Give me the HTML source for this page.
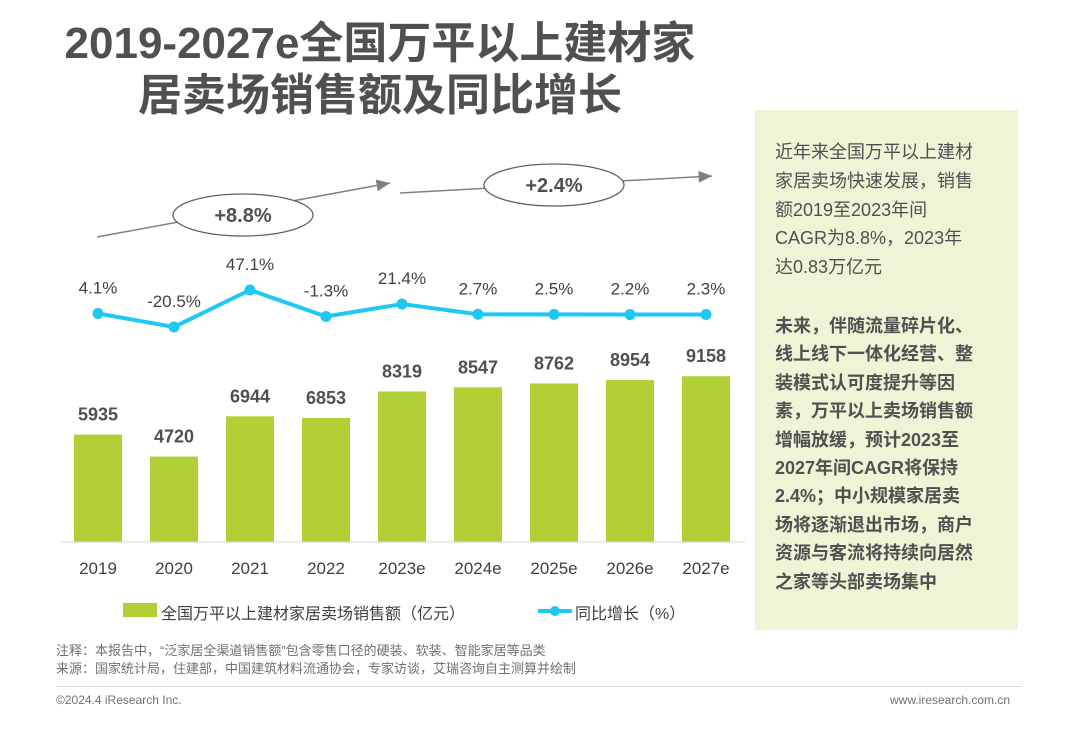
<!DOCTYPE html>
<html><head><meta charset="utf-8"><style>
body{margin:0;width:1080px;height:750px;background:#fff;position:relative;overflow:hidden;font-family:"Liberation Sans","Noto Sans CJK SC",sans-serif;color:#404040}
.t{position:absolute;white-space:nowrap}
</style></head><body>
<div class="t" style="left:0;width:760px;top:18px;text-align:center;font-size:44px;font-weight:bold;line-height:52px;color:#505050">2019-2027e全国万平以上建材家<br>居卖场销售额及同比增长</div>
<svg width="1080" height="750" style="position:absolute;left:0;top:0">
<defs><marker id="ar" markerWidth="10" markerHeight="10" refX="9" refY="5" orient="auto"><path d="M0,1 L9,5 L0,9 Z" fill="#808080"/></marker></defs>
<line x1="97" y1="237" x2="390" y2="183" stroke="#808080" stroke-width="1.5" marker-end="url(#ar)"/>
<line x1="400" y1="193" x2="712" y2="176" stroke="#808080" stroke-width="1.5" marker-end="url(#ar)"/>
<ellipse cx="243" cy="215" rx="70" ry="21" fill="#fff" stroke="#606060" stroke-width="1.3"/>
<text x="243" y="222" text-anchor="middle" font-size="20" font-weight="bold" fill="#505050">+8.8%</text>
<ellipse cx="554" cy="185" rx="70" ry="21" fill="#fff" stroke="#606060" stroke-width="1.3"/>
<text x="554" y="192" text-anchor="middle" font-size="20" font-weight="bold" fill="#505050">+2.4%</text>
<g id="bars"></g><g id="line"></g><g id="xl"></g>
<line x1="60" y1="542" x2="745" y2="542" stroke="#d9d9d9"/>
<rect x="123" y="603" width="34" height="14" fill="#b0d035"/>
<line x1="538" y1="611" x2="572" y2="611" stroke="#1ec8f0" stroke-width="4"/>
<circle cx="555" cy="611" r="5" fill="#1ec8f0"/>
</svg>
<div class="t" style="left:161px;top:600px;font-size:16px">全国万平以上建材家居卖场销售额（亿元）</div>
<div class="t" style="left:575px;top:600px;font-size:16px">同比增长（%）</div>
<div class="t" style="left:56px;top:642px;font-size:13px;line-height:18px;color:#707070">注释：本报告中，“泛家居全渠道销售额”包含零售口径的硬装、软装、智能家居等品类<br>来源：国家统计局，住建部，中国建筑材料流通协会，专家访谈，艾瑞咨询自主测算并绘制</div>
<div style="position:absolute;left:56px;top:686px;width:965px;height:1px;background:#d9d9d9"></div>
<div class="t" style="left:56px;top:693px;font-size:12px;color:#707070">©2024.4 iResearch Inc.</div>
<div class="t" style="left:890px;top:693px;font-size:12px;color:#707070">www.iresearch.com.cn</div>
<div style="position:absolute;left:755px;top:110px;width:263px;height:520px;background:#eff4d6">
<div class="t" style="left:20px;top:28px;font-size:18px;line-height:28.8px;color:#505050">近年来全国万平以上建材<br>家居卖场快速发展，销售<br>额2019至2023年间<br>CAGR为8.8%，2023年<br>达0.83万亿元</div>
<div class="t" style="left:20px;top:202px;font-size:18px;line-height:28.4px;font-weight:bold;color:#505050">未来，伴随流量碎片化、<br>线上线下一体化经营、整<br>装模式认可度提升等因<br>素，万平以上卖场销售额<br>增幅放缓，预计2023至<br>2027年间CAGR将保持<br>2.4%；中小规模家居卖<br>场将逐渐退出市场，商户<br>资源与客流将持续向居然<br>之家等头部卖场集中</div>
</div>
<script>
const years=["2019","2020","2021","2022","2023e","2024e","2025e","2026e","2027e"];
const sales=[5935,4720,6944,6853,8319,8547,8762,8954,9158];
const growth=[4.1,-20.5,47.1,-1.3,21.4,2.7,2.5,2.2,2.3];
const NS="http://www.w3.org/2000/svg";
function xs(i){return 98+i*76;}
function ys(v){return 542-v*0.01810;}
function yg(v){return 290+(47.1-v)*0.547;}
function mk(t,a,p){const e=document.createElementNS(NS,t);for(const k in a)e.setAttribute(k,a[k]);document.getElementById(p).appendChild(e);return e;}
let pts=[];
years.forEach((y,i)=>{
 const b=mk("rect",{x:xs(i)-24,y:ys(sales[i]),width:48,height:542-ys(sales[i]),fill:"#b0d035"},"bars");
 
 
 const t=mk("text",{x:xs(i),y:ys(sales[i])-14,"text-anchor":"middle","font-size":18,"font-weight":"bold",fill:"#505050"},"bars");t.textContent=sales[i];
 
 
 const l=mk("text",{x:xs(i),y:574,"text-anchor":"middle","font-size":17,fill:"#404040"},"xl");l.textContent=y;
 
 
 pts.push(xs(i)+","+yg(growth[i]));
});
const pl=mk("polyline",{points:pts.join(" "),fill:"none",stroke:"#1ec8f0","stroke-width":4,"stroke-linejoin":"round"},"line");


years.forEach((y,i)=>{
 const c=mk("circle",{cx:xs(i),cy:yg(growth[i]),r:5.5,fill:"#1ec8f0"},"line");
 
 
 const t=mk("text",{x:xs(i),y:yg(growth[i])-20,"text-anchor":"middle","font-size":17,fill:"#404040"},"line");t.textContent=growth[i]+"%";
 
 
});
</script>
</body></html>
